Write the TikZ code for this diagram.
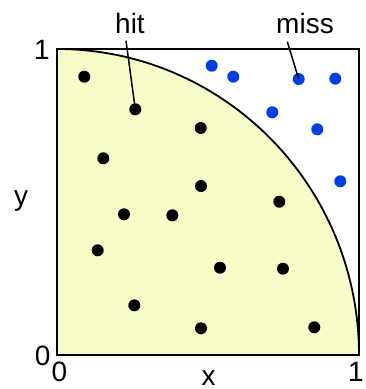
\documentclass[tikz,border=0pt]{standalone}
\usepackage{fontspec}
\setmainfont{Liberation Sans}
\begin{document}
\begin{tikzpicture}[x=1pt,y=-1pt,
  hitdot/.style={fill=black,circle,inner sep=0pt,minimum size=12pt},
  missdot/.style={fill=missblue,circle,inner sep=0pt,minimum size=12pt},
  lbl/.style={font=\fontsize{28}{30}\selectfont,inner sep=0pt},
  leader/.style={line width=1.5pt}]
\definecolor{missblue}{RGB}{0,62,225}
\definecolor{pale}{RGB}{247,252,200}
\useasboundingbox (0,0) rectangle (365,389);
\fill[white] (0,0) rectangle (365,389);
% quarter disc
\coordinate (O) at (57,355);
\fill[pale] (57,355) -- (359,355) arc[start angle=0,end angle=90,x radius=302,y radius=-306] -- cycle;
\draw[line width=1.8pt] (359,355) arc[start angle=0,end angle=90,x radius=302,y radius=-306];
\draw[line width=2pt] (57,49) rectangle (359,355);
% hits
\foreach \p/\n in {{(84.3,76.7)}/h1,{(135.3,109.3)}/h2,{(103.3,158.3)}/h3,{(200.7,128)}/h4,{(201,186)}/h5,{(124,214.3)}/h6,{(172.3,215.3)}/h7,{(97.7,250.3)}/h8,{(279.3,201.7)}/h9,{(220,267.7)}/h10,{(283,268.7)}/h11,{(134.3,305.3)}/h12,{(201,328.3)}/h13,{(314.3,327.3)}/h14}
  \node[hitdot] (\n) at \p {};
% misses
\foreach \p/\n in {{(211.7,65.7)}/m1,{(233.3,76.7)}/m2,{(298.7,79)}/m3,{(335.3,78.7)}/m4,{(272.3,112.3)}/m5,{(317.3,129.3)}/m6,{(340.3,181.3)}/m7}
  \node[missdot] (\n) at \p {};
% labels
\node[lbl,anchor=base] (hit) at (130,33.3) {hit};
\node[lbl,anchor=base] (miss) at (305,33.3) {miss};
\coordinate (hitend) at (126,40.7);
\coordinate (missend) at (287.3,41.7);
\draw[leader] (hitend) -- (h2.center);
\draw[leader] (missend) -- (m3.center);
\node[lbl] (one) at (42,50) {1};
\node[lbl] (zeroy) at (42.7,356) {0};
\node[lbl] (zerox) at (59.3,372) {0};
\node[lbl] (onex) at (356,371.5) {1};
\node[lbl,anchor=base] (xl) at (208.5,385) {x};
\node[lbl,anchor=base] (yl) at (21,205.3) {y};
\end{tikzpicture}
\end{document}
